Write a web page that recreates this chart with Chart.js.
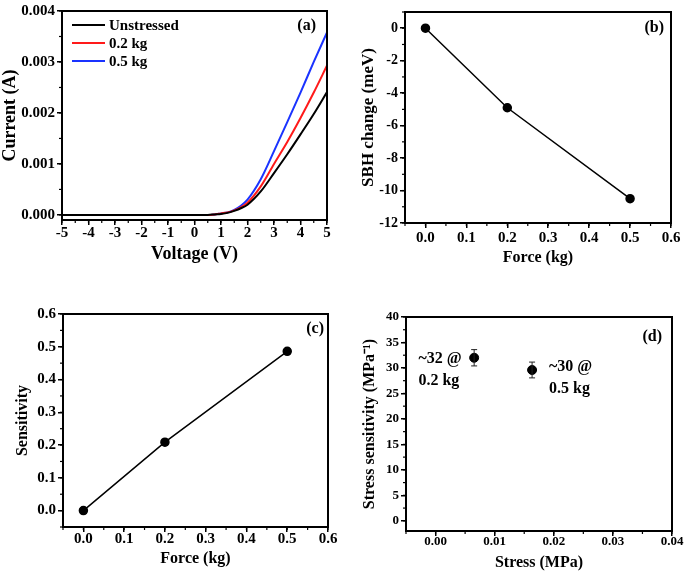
<!DOCTYPE html>
<html>
<head>
<meta charset="utf-8">
<script src="https://cdn.jsdelivr.net/npm/chart.js@4.4.1/dist/chart.umd.min.js"></script>
<style>
  html, body { margin: 0; padding: 0; background: #fff; }
  body { width: 685px; height: 573px; position: relative; overflow: hidden; }
  canvas { position: absolute; }
</style>
</head>
<body>
<canvas id="chartA" width="340" height="290" style="left:0;top:0"></canvas>
<canvas id="chartB" width="345" height="290" style="left:340px;top:0"></canvas>
<canvas id="chartC" width="340" height="283" style="left:0;top:290px"></canvas>
<canvas id="chartD" width="345" height="283" style="left:340px;top:290px"></canvas>
<script>
"use strict";

// (a) I-V curves
const VOLTAGE      = [-5, -4, -3, -2, -1, 0, 0.5, 0.75, 1, 1.25, 1.5, 1.75, 2, 2.5, 3, 3.5, 4, 4.5, 5];
const I_UNSTRESSED = [0, 0, 0, 0, 0, 0, 0, 0.00001, 0.00002, 0.00004, 0.00008, 0.00013, 0.0002, 0.00046, 0.00082, 0.00119, 0.00158, 0.00198, 0.00241];
const I_02KG       = [0, 0, 0, 0, 0, 0, 0, 0.00001, 0.00003, 0.00005, 0.00009, 0.00015, 0.00024, 0.00056, 0.00100, 0.00143, 0.00190, 0.0024, 0.00293];
const I_05KG       = [0, 0, 0, 0, 0, 0, 0, 0.00001, 0.00003, 0.00005, 0.0001, 0.00018, 0.0003, 0.0007, 0.00125, 0.00182, 0.0024, 0.003, 0.00358];
const SERIES_A     = ["Unstressed", "0.2 kg", "0.5 kg"];
const X_TICKS_A    = [-5, -4, -3, -2, -1, 0, 1, 2, 3, 4, 5];
const Y_TICKS_A    = [0, 0.001, 0.002, 0.003, 0.004];

// (b) SBH change vs force
const FORCE        = [0, 0.2, 0.5];
const SBH_CHANGE   = [0, -4.9, -10.5];
const X_TICKS_B    = [0, 0.1, 0.2, 0.3, 0.4, 0.5, 0.6];
const Y_TICKS_B    = [-12, -10, -8, -6, -4, -2, 0];

// (c) sensitivity vs force
const SENSITIVITY  = [0, 0.209, 0.486];
const Y_TICKS_C    = [0, 0.1, 0.2, 0.3, 0.4, 0.5, 0.6];

// (d) stress sensitivity vs stress
const STRESS       = [0.00653, 0.01633];
const STRESS_SENS  = [32.0, 29.6];
const STRESS_ERR   = [1.6, 1.55];
const NOTES_D      = [["~32 @", "0.2 kg"], ["~30 @", "0.5 kg"]];
const X_TICKS_D    = [0, 0.01, 0.02, 0.03, 0.04];
const Y_TICKS_D    = [0, 5, 10, 15, 20, 25, 30, 35, 40];

const FONT = "'Liberation Serif', 'Times New Roman', serif";
Chart.defaults.font.family = FONT;
Chart.defaults.font.weight = "bold";
Chart.defaults.color = "#000";

// box frame, minor ticks and panel letter
const framePlugin = {
  id: "frame",
  afterDraw(chart, args, opts) {
    const { ctx, chartArea: a, scales } = chart;
    ctx.save();
    ctx.strokeStyle = "#000";
    ctx.lineWidth = 2;
    ctx.strokeRect(a.left, a.top, a.right - a.left, a.bottom - a.top);

    ctx.lineWidth = 1.2;
    const xs = scales.x, ys = scales.y;
    for (let i = Math.ceil(xs.min / opts.minorX - 1e-6); i <= Math.floor(xs.max / opts.minorX + 1e-6); i++) {
      const px = xs.getPixelForValue(i * opts.minorX);
      ctx.beginPath(); ctx.moveTo(px, a.bottom); ctx.lineTo(px, a.bottom + 3); ctx.stroke();
    }
    for (let i = Math.ceil(ys.min / opts.minorY - 1e-6); i <= Math.floor(ys.max / opts.minorY + 1e-6); i++) {
      const py = ys.getPixelForValue(i * opts.minorY);
      ctx.beginPath(); ctx.moveTo(a.left, py); ctx.lineTo(a.left - 3, py); ctx.stroke();
    }

    ctx.fillStyle = "#000";
    ctx.font = "bold 16px " + FONT;
    ctx.textAlign = "right";
    ctx.textBaseline = "middle";
    ctx.fillText(opts.label, a.right - opts.labelDx, a.top + opts.labelDy);
    ctx.restore();
  }
};

// legend drawn inside the plot area of (a)
const insideLegend = {
  id: "insideLegend",
  afterDraw(chart) {
    const { ctx, chartArea: a } = chart;
    ctx.save();
    ctx.font = "bold 15px " + FONT;
    ctx.textBaseline = "middle";
    ctx.textAlign = "left";
    chart.data.datasets.forEach((ds, i) => {
      const y = a.top + 14 + i * 18;
      ctx.strokeStyle = ds.borderColor;
      ctx.lineWidth = 2;
      ctx.beginPath(); ctx.moveTo(a.left + 10, y); ctx.lineTo(a.left + 43, y); ctx.stroke();
      ctx.fillStyle = "#000";
      ctx.fillText(ds.label, a.left + 47, y + 1);
    });
    ctx.restore();
  }
};

// error bars for (d)
const errorBars = {
  id: "errorBars",
  afterDatasetsDraw(chart) {
    const { ctx, scales: { x, y } } = chart;
    ctx.save();
    ctx.strokeStyle = "#222";
    ctx.lineWidth = 1;
    STRESS.forEach((s, i) => {
      const px = x.getPixelForValue(s);
      const top = y.getPixelForValue(STRESS_SENS[i] + STRESS_ERR[i]);
      const bot = y.getPixelForValue(STRESS_SENS[i] - STRESS_ERR[i]);
      ctx.beginPath();
      ctx.moveTo(px, top); ctx.lineTo(px, bot);
      ctx.moveTo(px - 3, top); ctx.lineTo(px + 3, top);
      ctx.moveTo(px - 3, bot); ctx.lineTo(px + 3, bot);
      ctx.stroke();
    });
    ctx.restore();
  }
};

// text notes next to the points of (d)
const notesPlugin = {
  id: "notes",
  afterDraw(chart) {
    const { ctx, scales: { x, y } } = chart;
    const anchors = [[-0.0029, 31.8], [0.0192, 30.2]];
    ctx.save();
    ctx.font = "bold 16px " + FONT;
    ctx.fillStyle = "#000";
    ctx.textAlign = "left";
    ctx.textBaseline = "middle";
    NOTES_D.forEach((lines, i) => {
      const px = x.getPixelForValue(anchors[i][0]);
      const py = y.getPixelForValue(anchors[i][1]);
      lines.forEach((t, j) => ctx.fillText(t, px, py + j * 22));
    });
    ctx.restore();
  }
};

function axis(cfg) {
  return {
    type: "linear",
    min: cfg.min,
    max: cfg.max,
    afterBuildTicks: s => { s.ticks = cfg.ticks.map(v => ({ value: v })); },
    afterFit: s => { if (cfg.width) s.width = cfg.width; if (cfg.height) s.height = cfg.height; },
    border: { color: "#000", width: 2 },
    grid: { drawOnChartArea: false, color: "#000", lineWidth: 1.5, tickLength: 5 },
    ticks: {
      font: { size: cfg.tickSize, weight: "bold" },
      color: "#000",
      padding: cfg.labelPad !== undefined ? cfg.labelPad : 2,
      callback: v => v.toFixed(cfg.digits)
    },
    title: {
      display: true,
      text: cfg.title,
      color: "#000",
      font: { size: cfg.titleSize, weight: "bold" },
      padding: cfg.titlePad
    }
  };
}

function baseOptions(pad, frame, xs, ys) {
  return {
    responsive: false,
    animation: false,
    layout: { padding: pad },
    plugins: { legend: { display: false }, tooltip: { enabled: false }, frame },
    scales: { x: xs, y: ys }
  };
}

// (a)
new Chart(document.getElementById("chartA"), {
  type: "line",
  data: {
    datasets: [I_UNSTRESSED, I_02KG, I_05KG].map((arr, i) => ({
      label: SERIES_A[i],
      data: VOLTAGE.map((v, k) => ({ x: v, y: arr[k] })),
      borderColor: ["#000000", "#ff1a1a", "#1a33ff"][i],
      borderWidth: 2,
      pointRadius: 0,
      cubicInterpolationMode: "monotone"
    }))
  },
  options: baseOptions(
    { top: 7, right: 13, left: 0, bottom: 0 },
    { label: "(a)", labelDx: 11, labelDy: 15, minorX: 0.5, minorY: 0.0005 },
    axis({ min: -5, max: 5, ticks: X_TICKS_A, digits: 0, tickSize: 15, labelPad: -1, title: "Voltage (V)", titleSize: 18, titlePad: { top: 0, bottom: 25 }, height: 70 }),
    axis({ min: -0.0001, max: 0.004, ticks: Y_TICKS_A, digits: 3, tickSize: 15, title: "Current (A)", titleSize: 18, titlePad: { top: 0, bottom: 0 }, width: 62 })
  ),
  plugins: [framePlugin, insideLegend]
});

// (b)
new Chart(document.getElementById("chartB"), {
  type: "line",
  data: {
    datasets: [{
      data: FORCE.map((f, k) => ({ x: f, y: SBH_CHANGE[k] })),
      borderColor: "#000", borderWidth: 1.5,
      pointRadius: 4, pointBackgroundColor: "#000", pointBorderColor: "#000"
    }]
  },
  options: baseOptions(
    { top: 12, right: 14, left: 0, bottom: 0 },
    { label: "(b)", labelDx: 7, labelDy: 16, minorX: 0.05, minorY: 1 },
    axis({ min: -0.05, max: 0.6, ticks: X_TICKS_B, digits: 1, tickSize: 15, labelPad: 1, title: "Force (kg)", titleSize: 16, titlePad: { top: 0, bottom: 23 }, height: 67 }),
    axis({ min: -12, max: 1, ticks: Y_TICKS_B, digits: 0, tickSize: 14, title: "SBH change (meV)", titleSize: 17, titlePad: { top: 18, bottom: 0 }, width: 65 })
  ),
  plugins: [framePlugin]
});

// (c)
new Chart(document.getElementById("chartC"), {
  type: "line",
  data: {
    datasets: [{
      data: FORCE.map((f, k) => ({ x: f, y: SENSITIVITY[k] })),
      borderColor: "#000", borderWidth: 1.5,
      pointRadius: 4, pointBackgroundColor: "#000", pointBorderColor: "#000"
    }]
  },
  options: baseOptions(
    { top: 24, right: 12, left: 0, bottom: 0 },
    { label: "(c)", labelDx: 4, labelDy: 15, minorX: 0.05, minorY: 0.05 },
    axis({ min: -0.05, max: 0.6, ticks: X_TICKS_B, digits: 1, tickSize: 15, labelPad: -2, title: "Force (kg)", titleSize: 16, titlePad: { top: 0, bottom: 5 }, height: 46 }),
    axis({ min: -0.05, max: 0.6, ticks: Y_TICKS_C, digits: 1, tickSize: 15, title: "Sensitivity", titleSize: 16, titlePad: { top: 13, bottom: 0 }, width: 63 })
  ),
  plugins: [framePlugin]
});

// (d)
new Chart(document.getElementById("chartD"), {
  type: "scatter",
  data: {
    datasets: [{
      data: STRESS.map((s, k) => ({ x: s, y: STRESS_SENS[k] })),
      pointRadius: 4.5, pointBackgroundColor: "#000", pointBorderColor: "#000"
    }]
  },
  options: baseOptions(
    { top: 27, right: 13, left: 0, bottom: 0 },
    { label: "(d)", labelDx: 10, labelDy: 20, minorX: 0.005, minorY: 2.5 },
    axis({ min: -0.005, max: 0.04, ticks: X_TICKS_D, digits: 2, tickSize: 13, labelPad: -2, title: "Stress (MPa)", titleSize: 16, titlePad: { top: 0, bottom: 1 }, height: 42 }),
    axis({ min: -2, max: 40, ticks: Y_TICKS_D, digits: 0, tickSize: 13, title: "Stress sensitivity (MPa\u207B\u00B9)", titleSize: 16, titlePad: { top: 20, bottom: 0 }, width: 66 })
  ),
  plugins: [framePlugin, errorBars, notesPlugin]
});
</script>
</body>
</html>
